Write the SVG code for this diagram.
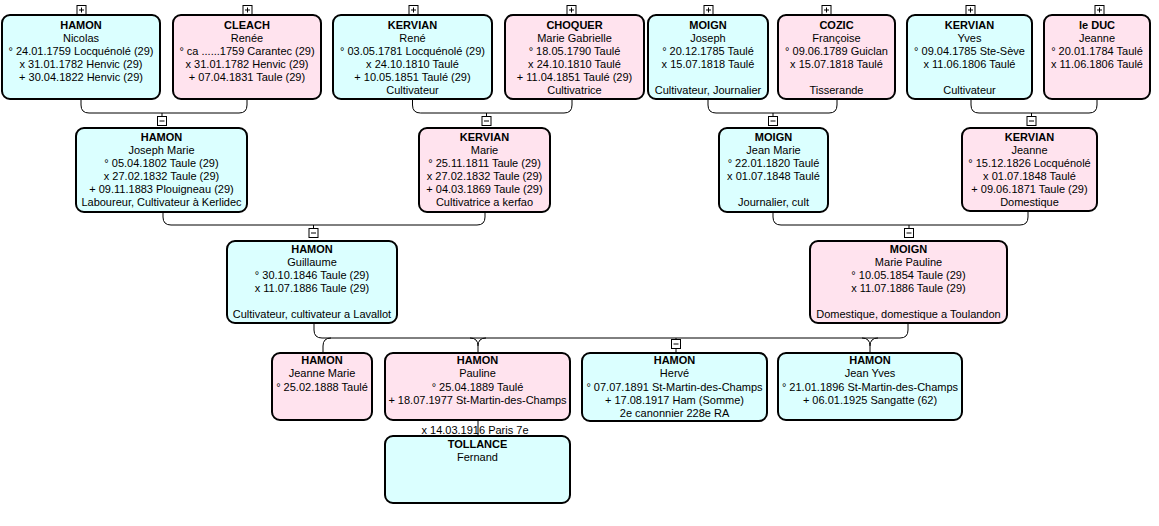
<svg xmlns="http://www.w3.org/2000/svg" width="1159" height="526" viewBox="0 0 1159 526">
<style>
.m{fill:#DBFFFF;stroke:#000;stroke-width:2}
.f{fill:#FFE3EE;stroke:#000;stroke-width:2}
text{font-family:"Liberation Sans",Arial,sans-serif;font-size:11px;fill:#000;text-anchor:middle}
.n{font-weight:bold}
.c{fill:none;stroke:#000;stroke-width:1}
.b{fill:#fff;stroke:#000;stroke-width:1}
</style>
<rect width="1159" height="526" fill="#fff"/>
<g id="connectors">
<path class="c" d="M81,99V105Q81,113 89,113H239Q247,113 247,105V99M162,113V116.5"/>
<path class="c" d="M412.5,99V105Q412.5,113 420.5,113H564Q572,113 572,105V99M486.5,113V116.5"/>
<path class="c" d="M708,99V105Q708,113 716,113H829Q837,113 837,105V99M773,113V116.5"/>
<path class="c" d="M971,99V105Q971,113 979,113H1089Q1097,113 1097,105V99M1031.5,113V116.5"/>
<path class="c" d="M163,212V217Q163,225 171,225H477Q485,225 485,217V212M313.5,225V228.5"/>
<path class="c" d="M773,212V217Q773,225 781,225H1020Q1028,225 1028,217V211M909,225V228.5"/>
<path class="c" d="M314,323V330Q314,338 322,338H900Q908,338 908,330V323"/>
<path class="c" d="M331,338Q323,338 323,346V353"/>
<path class="c" d="M470,338Q478,338 478,346V353M486,338Q478,338 478,346"/>
<path class="c" d="M862,338Q870,338 870,346V353M878,338Q870,338 870,346"/>
<path class="c" d="M676,338V339.5M676,348.5V353"/>
<path class="c" d="M478,420V436"/>
</g>
<g id="buttons">
<g class="b"><rect x="77" y="5.5" width="9" height="9"/><rect x="243" y="5.5" width="9" height="9"/><rect x="409" y="5.5" width="9" height="9"/><rect x="567" y="5.5" width="9" height="9"/><rect x="704" y="5.5" width="9" height="9"/><rect x="822" y="5.5" width="9" height="9"/><rect x="966" y="5.5" width="9" height="9"/><rect x="1095" y="5.5" width="9" height="9"/></g>
<path class="c" d="M79,10h5M81.5,7.5v5M245,10h5M247.5,7.5v5M411,10h5M413.5,7.5v5M569,10h5M571.5,7.5v5M706,10h5M708.5,7.5v5M824,10h5M826.5,7.5v5M968,10h5M970.5,7.5v5M1097,10h5M1099.5,7.5v5"/>
<g class="b"><rect x="157.5" y="116.5" width="9" height="9"/><rect x="482" y="116.5" width="9" height="9"/><rect x="768.5" y="116.5" width="9" height="9"/><rect x="1027" y="116.5" width="9" height="9"/><rect x="309" y="228.5" width="9" height="9"/><rect x="904.5" y="228.5" width="9" height="9"/><rect x="671.5" y="339.5" width="9" height="9"/></g>
<path class="c" d="M159.5,121h5M484,121h5M770.5,121h5M1029,121h5M311,233h5M906.5,233h5M673.5,344h5"/>
</g>
<g id="p1"><rect class="m" x="2" y="15" width="158" height="84" rx="8"/><text x="81" y="29" class="n">HAMON</text><text x="81" y="42">Nicolas</text><text x="81" y="55">° 24.01.1759 Locquénolé (29)</text><text x="81" y="68">x 31.01.1782 Henvic (29)</text><text x="81" y="81">+ 30.04.1822 Henvic (29)</text></g>
<g id="p2"><rect class="f" x="173" y="15" width="148" height="84" rx="8"/><text x="247" y="29" class="n">CLEACH</text><text x="247" y="42">Renée</text><text x="247" y="55">° ca ......1759 Carantec (29)</text><text x="247" y="68">x 31.01.1782 Henvic (29)</text><text x="247" y="81">+ 07.04.1831 Taule (29)</text></g>
<g id="p3"><rect class="m" x="333" y="15" width="159" height="84" rx="8"/><text x="412.5" y="29" class="n">KERVIAN</text><text x="412.5" y="42">René</text><text x="412.5" y="55">° 03.05.1781 Locquénolé (29)</text><text x="412.5" y="68">x 24.10.1810 Taulé</text><text x="412.5" y="81">+ 10.05.1851 Taulé (29)</text><text x="412.5" y="94">Cultivateur</text></g>
<g id="p4"><rect class="f" x="505" y="15" width="139" height="84" rx="8"/><text x="574.5" y="29" class="n">CHOQUER</text><text x="574.5" y="42">Marie Gabrielle</text><text x="574.5" y="55">° 18.05.1790 Taulé</text><text x="574.5" y="68">x 24.10.1810 Taulé</text><text x="574.5" y="81">+ 11.04.1851 Taulé (29)</text><text x="574.5" y="94">Cultivatrice</text></g>
<g id="p5"><rect class="m" x="648" y="15" width="120" height="84" rx="8"/><text x="708" y="29" class="n">MOIGN</text><text x="708" y="42">Joseph</text><text x="708" y="55">° 20.12.1785 Taulé</text><text x="708" y="68">x 15.07.1818 Taulé</text><text x="708" y="94">Cultivateur, Journalier</text></g>
<g id="p6"><rect class="f" x="778" y="15" width="117" height="84" rx="8"/><text x="836.5" y="29" class="n">COZIC</text><text x="836.5" y="42">Françoise</text><text x="836.5" y="55">° 09.06.1789 Guiclan</text><text x="836.5" y="68">x 15.07.1818 Taulé</text><text x="836.5" y="94">Tisserande</text></g>
<g id="p7"><rect class="m" x="907" y="15" width="125" height="84" rx="8"/><text x="969.5" y="29" class="n">KERVIAN</text><text x="969.5" y="42">Yves</text><text x="969.5" y="55">° 09.04.1785 Ste-Sève</text><text x="969.5" y="68">x 11.06.1806 Taulé</text><text x="969.5" y="94">Cultivateur</text></g>
<g id="p8"><rect class="f" x="1044" y="15" width="106" height="84" rx="8"/><text x="1097" y="29" class="n">le DUC</text><text x="1097" y="42">Jeanne</text><text x="1097" y="55">° 20.01.1784 Taulé</text><text x="1097" y="68">x 11.06.1806 Taulé</text></g>
<g id="p9"><rect class="m" x="76" y="128" width="171" height="84" rx="8"/><text x="161.5" y="140.5" class="n">HAMON</text><text x="161.5" y="153.5">Joseph Marie</text><text x="161.5" y="166.5">° 05.04.1802 Taule (29)</text><text x="161.5" y="179.5">x 27.02.1832 Taule (29)</text><text x="161.5" y="192.5">+ 09.11.1883 Plouigneau (29)</text><text x="161.5" y="205.5">Laboureur, Cultivateur à Kerlidec</text></g>
<g id="p10"><rect class="f" x="419" y="128" width="131" height="84" rx="8"/><text x="484.5" y="140.5" class="n">KERVIAN</text><text x="484.5" y="153.5">Marie</text><text x="484.5" y="166.5">° 25.11.1811 Taule (29)</text><text x="484.5" y="179.5">x 27.02.1832 Taule (29)</text><text x="484.5" y="192.5">+ 04.03.1869 Taule (29)</text><text x="484.5" y="205.5">Cultivatrice a kerfao</text></g>
<g id="p11"><rect class="m" x="719" y="128" width="109" height="84" rx="8"/><text x="773.5" y="140.5" class="n">MOIGN</text><text x="773.5" y="153.5">Jean Marie</text><text x="773.5" y="166.5">° 22.01.1820 Taulé</text><text x="773.5" y="179.5">x 01.07.1848 Taulé</text><text x="773.5" y="205.5">Journalier, cult</text></g>
<g id="p12"><rect class="f" x="962" y="128" width="135" height="83" rx="8"/><text x="1029.5" y="140.5" class="n">KERVIAN</text><text x="1029.5" y="153.5">Jeanne</text><text x="1029.5" y="166.5">° 15.12.1826 Locquénolé</text><text x="1029.5" y="179.5">x 01.07.1848 Taulé</text><text x="1029.5" y="192.5">+ 09.06.1871 Taule (29)</text><text x="1029.5" y="205.5">Domestique</text></g>
<g id="p13"><rect class="m" x="227" y="241" width="170" height="82" rx="8"/><text x="312" y="252.5" class="n">HAMON</text><text x="312" y="265.5">Guillaume</text><text x="312" y="278.5">° 30.10.1846 Taule (29)</text><text x="312" y="291.5">x 11.07.1886 Taule (29)</text><text x="312" y="317.5">Cultivateur, cultivateur a Lavallot</text></g>
<g id="p14"><rect class="f" x="810" y="241" width="197" height="82" rx="8"/><text x="908.5" y="252.5" class="n">MOIGN</text><text x="908.5" y="265.5">Marie Pauline</text><text x="908.5" y="278.5">° 10.05.1854 Taule (29)</text><text x="908.5" y="291.5">x 11.07.1886 Taule (29)</text><text x="908.5" y="317.5">Domestique, domestique a Toulandon</text></g>
<g id="p15"><rect class="f" x="272" y="353" width="100" height="67" rx="8"/><text x="322" y="364" class="n">HAMON</text><text x="322" y="377">Jeanne Marie</text><text x="322" y="390.5">° 25.02.1888 Taulé</text></g>
<g id="p16"><rect class="f" x="385" y="353" width="185" height="67" rx="8"/><text x="477.5" y="364" class="n">HAMON</text><text x="477.5" y="377">Pauline</text><text x="477.5" y="390.5">° 25.04.1889 Taulé</text><text x="477.5" y="403.5">+ 18.07.1977 St-Martin-des-Champs</text></g>
<g id="p17"><rect class="m" x="582" y="353" width="185" height="68" rx="8"/><text x="674.5" y="364" class="n">HAMON</text><text x="674.5" y="377">Hervé</text><text x="674.5" y="390.5">° 07.07.1891 St-Martin-des-Champs</text><text x="674.5" y="403.5">+ 17.08.1917 Ham (Somme)</text><text x="674.5" y="417">2e canonnier 228e RA</text></g>
<g id="p18"><rect class="m" x="778" y="353" width="184" height="67" rx="8"/><text x="870" y="364" class="n">HAMON</text><text x="870" y="377">Jean Yves</text><text x="870" y="390.5">° 21.01.1896 St-Martin-des-Champs</text><text x="870" y="403.5">+ 06.01.1925 Sangatte (62)</text></g>
<g id="p19"><text x="475" y="433.5">x 14.03.1916 Paris 7e</text><rect class="m" x="385" y="436" width="185" height="67" rx="8"/><text x="477.5" y="447.5" class="n">TOLLANCE</text><text x="477.5" y="460.5">Fernand</text></g>
</svg>
